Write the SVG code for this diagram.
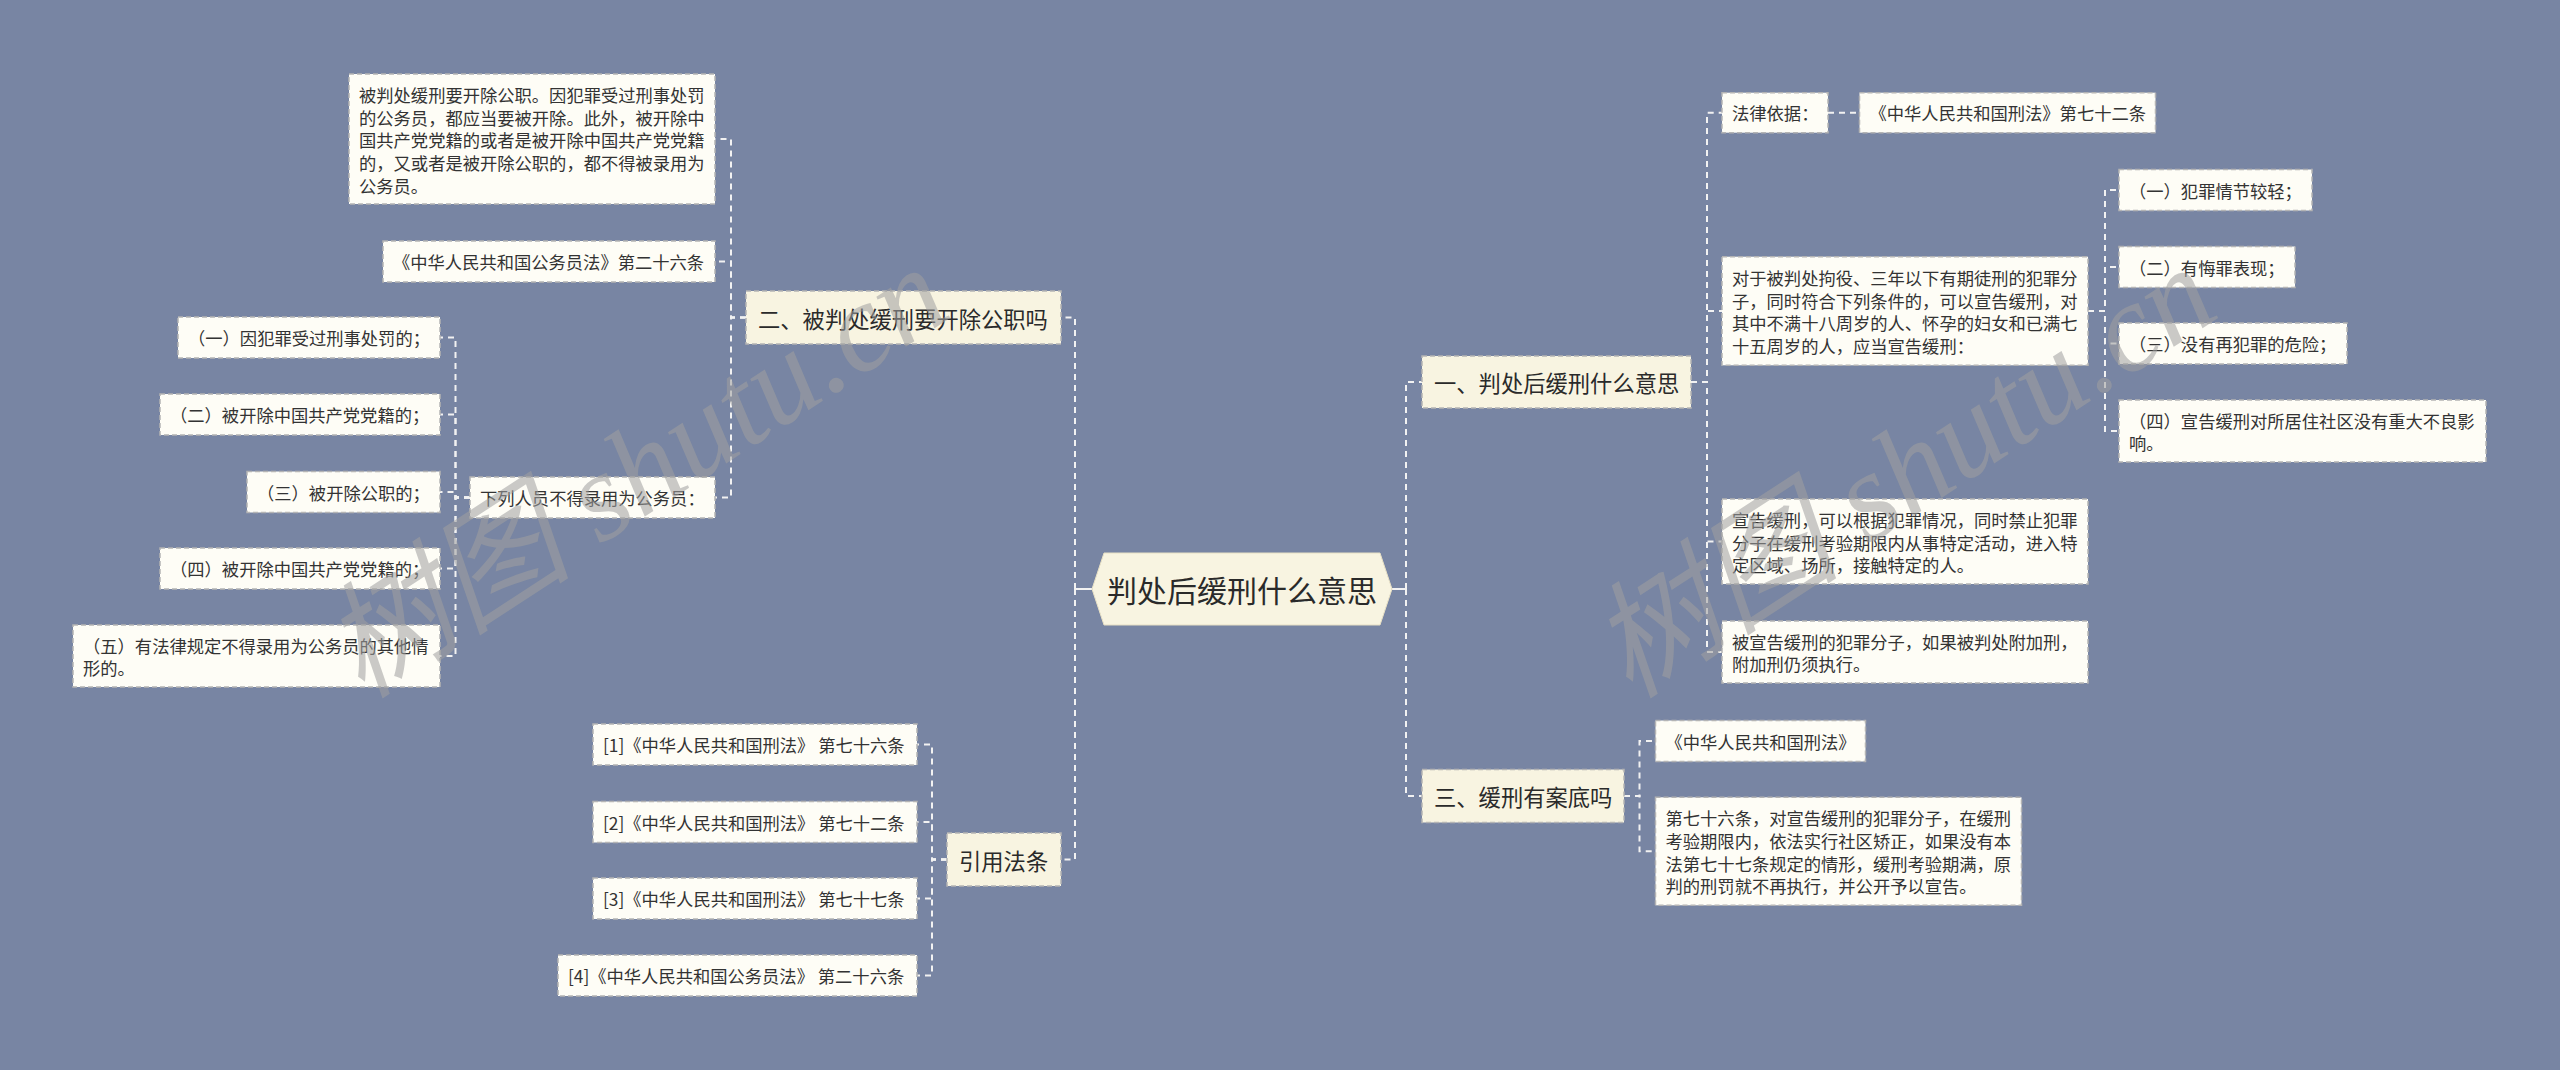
<svg xmlns="http://www.w3.org/2000/svg" width="2560" height="1070" viewBox="0 0 2560 1070">
<style>
.bg{fill:#7885a3}
.leaf{fill:#fefdf6;stroke:#b4b4b4;stroke-width:1.5;stroke-dasharray:5 3}
.br{fill:#f8f4e1;stroke:#b4b4b4;stroke-width:1.5;stroke-dasharray:5 3}
.ctr{fill:#f8f4e1;stroke:#e6dfc4;stroke-width:1}
.t{font-family:"Noto Sans CJK SC","Liberation Sans",sans-serif;font-size:17.3px;fill:#333;dominant-baseline:central}
.tb{font-family:"Noto Sans CJK SC","Liberation Sans",sans-serif;font-size:22.3px;fill:#2a2a2a;dominant-baseline:central}
.tc{font-family:"Noto Sans CJK SC","Liberation Sans",sans-serif;font-size:30px;fill:#2a2a2a;dominant-baseline:central;text-anchor:middle}
.c{fill:none;stroke:#f2f2f2;stroke-width:2;stroke-dasharray:6 5}
.cs{fill:none;stroke:#f2f2f2;stroke-width:2}
.wm{font-family:"Liberation Serif","Noto Sans CJK SC",serif;font-style:italic;font-size:126px;fill:#a0a0a0;opacity:0.55}
</style>
<rect class="bg" x="0" y="0" width="2560" height="1070"/>

<g id="connectors">
  <path class="cs" d="M1092,589 H1075"/>
  <path class="c" d="M1075,589 V317.5 H1061"/>
  <path class="c" d="M1075,589 V859.5 H1061"/>
  <path class="cs" d="M1392,589 H1406"/>
  <path class="c" d="M1406,589 V382 H1422"/>
  <path class="c" d="M1406,589 V796 H1422"/>
  <path class="c" d="M746,317.5 H731 V139 H715"/>
  <path class="c" d="M746,317.5 H731 V261.5 H715"/>
  <path class="c" d="M746,317.5 H731 V497.5 H715"/>
  <path class="c" d="M470,497.5 H455.5 V337.5 H440"/>
  <path class="c" d="M470,497.5 H455.5 V414.5 H440"/>
  <path class="c" d="M470,497.5 H455.5 V492 H440"/>
  <path class="c" d="M470,497.5 H455.5 V568.5 H440"/>
  <path class="c" d="M470,497.5 H455.5 V656 H440"/>
  <path class="c" d="M947,859.5 H932 V744.5 H917"/>
  <path class="c" d="M947,859.5 H932 V822 H917"/>
  <path class="c" d="M947,859.5 H932 V898.5 H917"/>
  <path class="c" d="M947,859.5 H932 V975.5 H917"/>
  <path class="c" d="M1691,382 H1707 V112.7 H1722"/>
  <path class="c" d="M1691,382 H1707 V311 H1722"/>
  <path class="c" d="M1691,382 H1707 V541.5 H1722"/>
  <path class="c" d="M1691,382 H1707 V652 H1722"/>
  <path class="c" d="M1828,112.7 H1859.5"/>
  <path class="c" d="M2088,311 H2105 V190 H2119"/>
  <path class="c" d="M2088,311 H2105 V267 H2119"/>
  <path class="c" d="M2088,311 H2105 V343.5 H2119"/>
  <path class="c" d="M2088,311 H2105 V431 H2119"/>
  <path class="c" d="M1624,796 H1639.5 V741 H1655.5"/>
  <path class="c" d="M1624,796 H1639.5 V851.3 H1655.5"/>
</g>

<g id="n-center">
  <polygon class="ctr" points="1092,589 1104,553 1380,553 1392,589 1380,625 1104,625"/>
  <text class="tc" x="1242" y="589">判处后缓刑什么意思</text>
</g>

<g id="n-b2">
  <rect class="br" x="746" y="291" width="315" height="53"/>
  <text class="tb" x="758" y="317.5">二、被判处缓刑要开除公职吗</text>
</g>
<g id="n-a">
  <rect class="leaf" x="349" y="74" width="366" height="130"/>
  <text class="t"><tspan x="359" y="94">被判处缓刑要开除公职。因犯罪受过刑事处罚</tspan><tspan x="359" y="116.7">的公务员，都应当要被开除。此外，被开除中</tspan><tspan x="359" y="139.4">国共产党党籍的或者是被开除中国共产党党籍</tspan><tspan x="359" y="162.1">的，又或者是被开除公职的，都不得被录用为</tspan><tspan x="359" y="184.8">公务员。</tspan></text>
</g>
<g id="n-b">
  <rect class="leaf" x="383" y="241" width="332" height="41"/>
  <text class="t" x="393" y="261.5">《中华人民共和国公务员法》第二十六条</text>
</g>
<g id="n-c">
  <rect class="leaf" x="470" y="477" width="245" height="41"/>
  <text class="t" x="480" y="497.5">下列人员不得录用为公务员：</text>
</g>
<g id="n-c1">
  <rect class="leaf" x="178" y="317" width="262" height="41"/>
  <text class="t" x="188" y="337.5">（一）因犯罪受过刑事处罚的；</text>
</g>
<g id="n-c2">
  <rect class="leaf" x="160" y="394" width="280" height="41"/>
  <text class="t" x="170" y="414.5">（二）被开除中国共产党党籍的；</text>
</g>
<g id="n-c3">
  <rect class="leaf" x="247" y="471.5" width="193" height="41"/>
  <text class="t" x="257" y="492">（三）被开除公职的；</text>
</g>
<g id="n-c4">
  <rect class="leaf" x="160" y="548" width="280" height="41"/>
  <text class="t" x="170" y="568.5">（四）被开除中国共产党党籍的；</text>
</g>
<g id="n-c5">
  <rect class="leaf" x="73" y="625" width="367" height="62"/>
  <text class="t"><tspan x="83" y="644.6">（五）有法律规定不得录用为公务员的其他情</tspan><tspan x="83" y="667.3">形的。</tspan></text>
</g>
<g id="n-ref">
  <rect class="br" x="947" y="833" width="114" height="53"/>
  <text class="tb" x="959" y="859.5">引用法条</text>
</g>
<g id="n-r1">
  <rect class="leaf" x="593" y="724" width="324" height="41"/>
  <text class="t" x="603" y="744.5">[1]《中华人民共和国刑法》 第七十六条</text>
</g>
<g id="n-r2">
  <rect class="leaf" x="593" y="801.5" width="324" height="41"/>
  <text class="t" x="603" y="822">[2]《中华人民共和国刑法》 第七十二条</text>
</g>
<g id="n-r3">
  <rect class="leaf" x="593" y="878" width="324" height="41"/>
  <text class="t" x="603" y="898.5">[3]《中华人民共和国刑法》 第七十七条</text>
</g>
<g id="n-r4">
  <rect class="leaf" x="558" y="955" width="359" height="41"/>
  <text class="t" x="568" y="975.5">[4]《中华人民共和国公务员法》 第二十六条</text>
</g>

<g id="n-b1">
  <rect class="br" x="1422" y="356" width="269" height="52"/>
  <text class="tb" x="1434" y="382">一、判处后缓刑什么意思</text>
</g>
<g id="n-law">
  <rect class="leaf" x="1722" y="92.7" width="106" height="40"/>
  <text class="t" x="1732" y="112.7">法律依据：</text>
</g>
<g id="n-law72">
  <rect class="leaf" x="1859.5" y="92.7" width="296" height="40"/>
  <text class="t" x="1869.5" y="112.7">《中华人民共和国刑法》第七十二条</text>
</g>
<g id="n-cond">
  <rect class="leaf" x="1722" y="256.7" width="366" height="108.6"/>
  <text class="t"><tspan x="1732" y="276.9">对于被判处拘役、三年以下有期徒刑的犯罪分</tspan><tspan x="1732" y="299.6">子，同时符合下列条件的，可以宣告缓刑，对</tspan><tspan x="1732" y="322.3">其中不满十八周岁的人、怀孕的妇女和已满七</tspan><tspan x="1732" y="345">十五周岁的人，应当宣告缓刑：</tspan></text>
</g>
<g id="n-k1">
  <rect class="leaf" x="2119" y="169.5" width="193" height="41"/>
  <text class="t" x="2129" y="190">（一）犯罪情节较轻；</text>
</g>
<g id="n-k2">
  <rect class="leaf" x="2119" y="246.5" width="176" height="41"/>
  <text class="t" x="2129" y="267">（二）有悔罪表现；</text>
</g>
<g id="n-k3">
  <rect class="leaf" x="2119" y="323" width="228" height="41"/>
  <text class="t" x="2129" y="343.5">（三）没有再犯罪的危险；</text>
</g>
<g id="n-k4">
  <rect class="leaf" x="2119" y="400" width="367" height="62"/>
  <text class="t"><tspan x="2129" y="419.6">（四）宣告缓刑对所居住社区没有重大不良影</tspan><tspan x="2129" y="442.3">响。</tspan></text>
</g>
<g id="n-ban">
  <rect class="leaf" x="1722" y="499" width="366" height="85"/>
  <text class="t"><tspan x="1732" y="518.8">宣告缓刑，可以根据犯罪情况，同时禁止犯罪</tspan><tspan x="1732" y="541.5">分子在缓刑考验期限内从事特定活动，进入特</tspan><tspan x="1732" y="564.2">定区域、场所，接触特定的人。</tspan></text>
</g>
<g id="n-add">
  <rect class="leaf" x="1722" y="621" width="366" height="62"/>
  <text class="t"><tspan x="1732" y="640.6">被宣告缓刑的犯罪分子，如果被判处附加刑，</tspan><tspan x="1732" y="663.3">附加刑仍须执行。</tspan></text>
</g>
<g id="n-b3">
  <rect class="br" x="1422" y="769.5" width="202" height="53"/>
  <text class="tb" x="1434" y="796">三、缓刑有案底吗</text>
</g>
<g id="n-xf">
  <rect class="leaf" x="1655.5" y="720.5" width="210" height="41"/>
  <text class="t" x="1665.5" y="741">《中华人民共和国刑法》</text>
</g>
<g id="n-a76">
  <rect class="leaf" x="1655.5" y="797.3" width="366" height="108"/>
  <text class="t"><tspan x="1665.5" y="817.2">第七十六条，对宣告缓刑的犯罪分子，在缓刑</tspan><tspan x="1665.5" y="839.9">考验期限内，依法实行社区矫正，如果没有本</tspan><tspan x="1665.5" y="862.6">法第七十七条规定的情形，缓刑考验期满，原</tspan><tspan x="1665.5" y="885.3">判的刑罚就不再执行，并公开予以宣告。</tspan></text>
</g>

<g id="watermarks">
  <text class="wm" transform="translate(362,700) rotate(-33)">树图 shutu.cn</text>
  <text class="wm" transform="translate(1630,700) rotate(-33)">树图 shutu.cn</text>
</g>
</svg>
